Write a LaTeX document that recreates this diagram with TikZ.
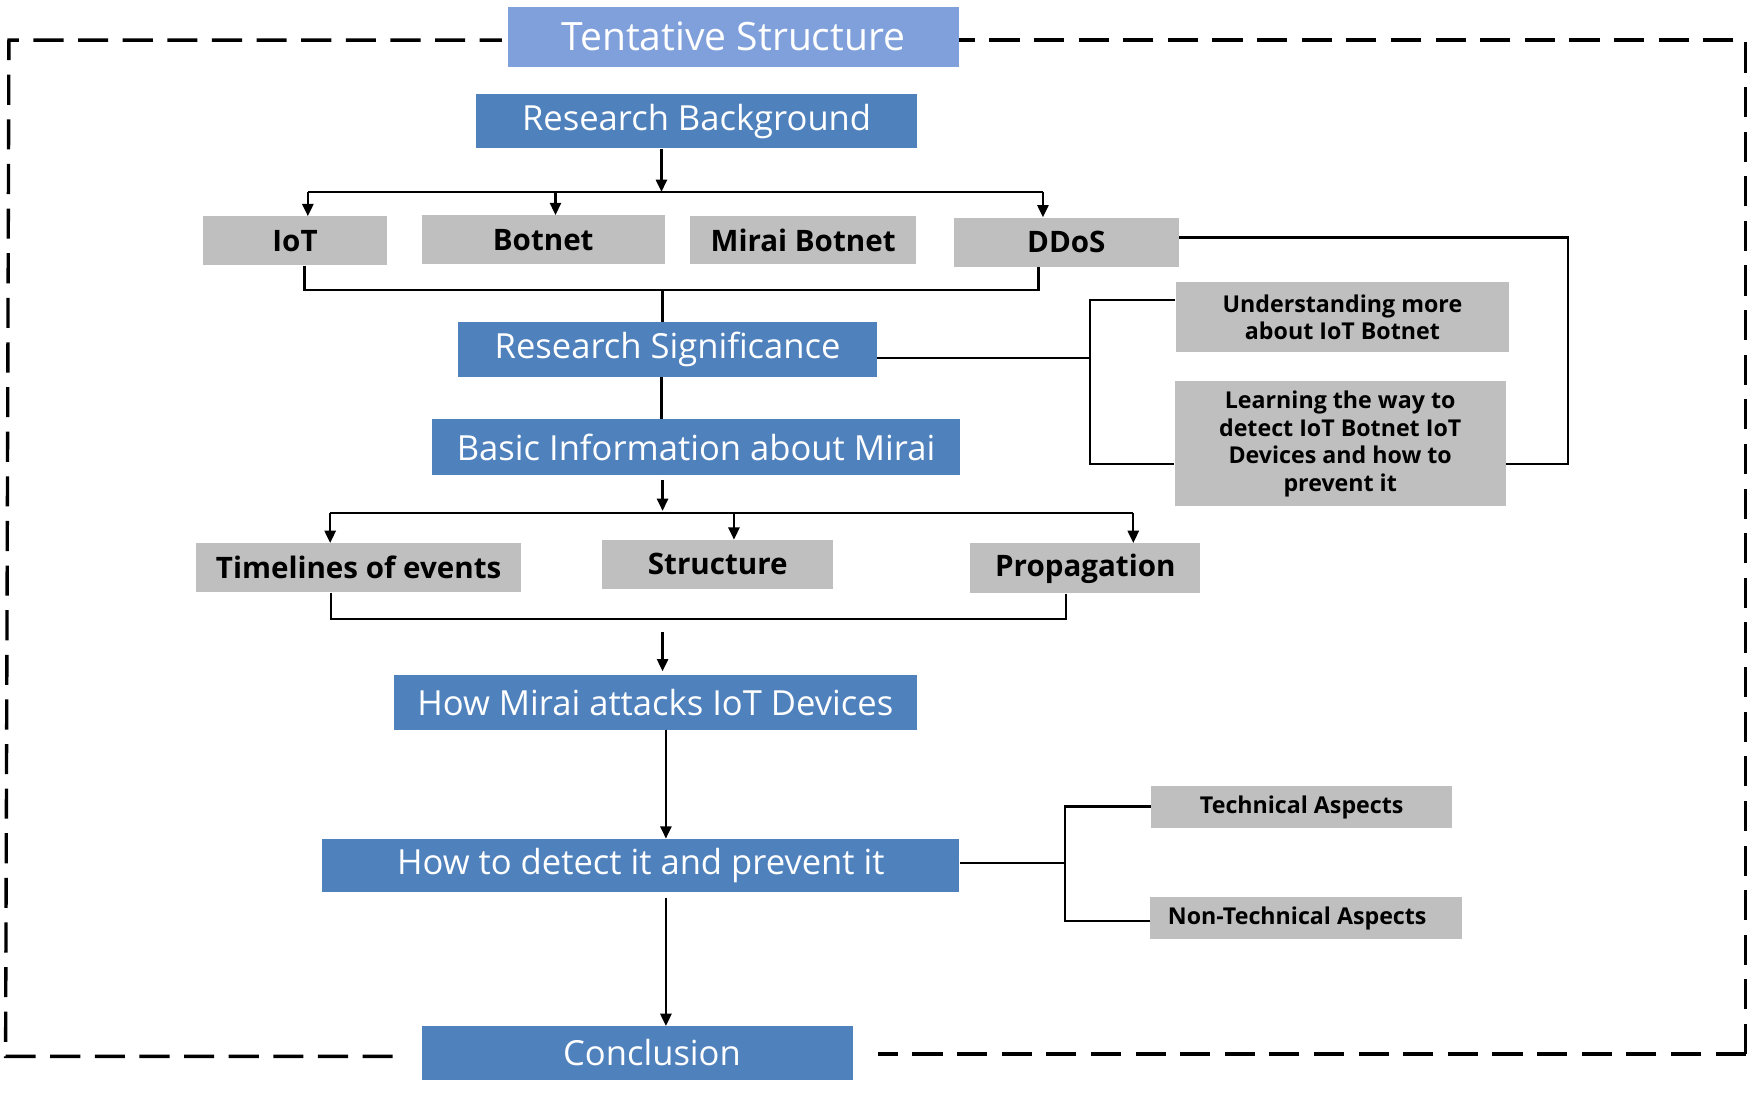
\documentclass[tikz,border=0pt]{standalone}
\usepackage{fontspec}
\setmainfont{Open Sans}
\usetikzlibrary{arrows.meta}
\definecolor{titleblue}{RGB}{128,160,220}
\definecolor{boxblue}{RGB}{79,129,189}
\definecolor{boxgray}{RGB}{191,191,191}
\tikzset{
  bluebox/.style={fill=boxblue, text=white, inner sep=0pt, font=\fontsize{31}{36}\selectfont},
  titlebox/.style={fill=titleblue, text=white, inner sep=0pt, font=\fontsize{35}{40}\selectfont},
  graybox/.style={fill=boxgray, text=black, inner sep=0pt, font=\fontsize{26.5}{31}\selectfont\bfseries},
  smallgray/.style={fill=boxgray, text=black, inner sep=0pt, align=center, font=\fontsize{20.8}{24.7}\selectfont\bfseries},
  conn/.style={draw=black, line width=2},
  arr/.style={conn, -{Triangle[length=11,width=10]}},
  frame/.style={draw=black, line width=3, dash pattern=on 27 off 13},
}
\begin{document}
\begin{tikzpicture}[x=1pt,y=-1pt]
\useasboundingbox (0,0) rectangle (1568,980);
% frame
\draw[frame] (352,947) -- (5,947) -- (8,36) -- (450,36);
\draw[frame] (1565,945) -- (1565,36) -- (860,36);
\draw[frame] (1565,945) -- (787,945);
% nodes
\node[titlebox, minimum width=405, minimum height=54] (title) at (657.5,33) {Tentative Structure};
\node[bluebox, minimum width=395, minimum height=49] (rb) at (624.5,108.5) {Research Background};
\node[graybox, minimum width=165, minimum height=44] (iot) at (264.5,216) {IoT};
\node[graybox, minimum width=218, minimum height=44] (botnet) at (487,215) {Botnet};
\node[graybox, minimum width=202, minimum height=43] (mirai) at (720,215.5) {Mirai Botnet};
\node[graybox, minimum width=202, minimum height=44] (ddos) at (956,217) {DDoS};
\node[bluebox, minimum width=375, minimum height=49] (rs) at (598.5,313.5) {Research Significance};
\node[bluebox, minimum width=474, minimum height=50] (bi) at (624,401) {Basic Information about Mirai};
\node[graybox, minimum width=291, minimum height=44] (tl) at (321.5,509) {Timelines of events};
\node[graybox, minimum width=207, minimum height=44] (st) at (643.5,506) {Structure};
\node[graybox, minimum width=206, minimum height=45] (pr) at (973,509.5) {Propagation};
\node[bluebox, minimum width=469, minimum height=49] (hm) at (587.5,629.5) {How Mirai attacks IoT Devices};
\node[bluebox, minimum width=571, minimum height=48] (hd) at (574.5,776) {How to detect it and prevent it};
\node[bluebox, minimum width=387, minimum height=48] (cc) at (571.5,944) {\hspace*{26pt}Conclusion};
\node[smallgray, minimum width=299, minimum height=63] (um) at (1203.5,284.5) {Understanding more\\about IoT Botnet};
\node[smallgray, minimum width=297, minimum height=112] (lw) at (1201.5,398) {Learning the way to\\detect IoT Botnet IoT\\Devices and how to\\prevent it};
\node[smallgray, minimum width=270, minimum height=37] (ta) at (1167,723.5) {Technical Aspects};
\node[smallgray, minimum width=280, minimum height=38] (nt) at (1171,823) {Non-Technical Aspects\hspace*{16pt}};
% helper coordinates
\coordinate (b1) at (593,172);
\coordinate (b1L) at (276,172);
\coordinate (b1B) at (498,172);
\coordinate (b1R) at (935,172);
\coordinate (k1L) at (273,260);
\coordinate (k1M) at (594,260);
\coordinate (k1R) at (931,260);
\coordinate (b2) at (594,458);
\coordinate (b2L) at (296,460);
\coordinate (b2M) at (658,460);
\coordinate (b2R) at (1016,460);
\coordinate (k2L) at (297,555);
\coordinate (k2R) at (956,555);
\coordinate (a3) at (594,567);
\coordinate (a4) at (597,654);
\coordinate (v1t) at (977,269);
\coordinate (v1m) at (977,321);
\coordinate (v1b) at (977,416);
\coordinate (v2t) at (1406,213);
\coordinate (v2b) at (1406,416);
\coordinate (v3t) at (955,723);
\coordinate (v3m) at (955,774);
\coordinate (v3b) at (955,826);
% connectors
\draw[arr] (rb.south -| b1) -- (b1);
\draw[conn] (b1L) -- (b1R);
\draw[arr] (b1L) -- (b1L |- iot.north);
\draw[arr] (b1B) -- (b1B |- botnet.north);
\draw[arr] (b1R) -- (b1R |- ddos.north);
\draw[conn] (k1L |- iot.south) -- (k1L) -- (k1R) -- (k1R |- ddos.south);
\draw[conn] (k1M) -- (k1M |- rs.north);
\draw[conn] (rs.south -| b1) -- (bi.north -| b1);
\draw[arr] ([yshift=-4]bi.south -| b2) -- (b2);
\draw[conn] (b2L) -- (b2R);
\draw[arr] (b2L) -- (b2L |- tl.north);
\draw[arr] (b2M) -- (b2M |- st.north);
\draw[arr] (b2R) -- (b2R |- pr.north);
\draw[conn] (k2L |- tl.south) -- (k2L) -- (k2R) -- (k2R |- pr.south);
\draw[arr] (a3) -- ([yshift=3]a3 |- hm.north);
\draw[arr] (a4) -- (a4 |- hd.north);
\draw[arr] ([yshift=-5]hd.south -| a4) -- (a4 |- cc.north);
\draw[conn] (rs.east |- v1m) -- (v1m);
\draw[conn] (um.west |- v1t) -- (v1t) -- (v1b) -- (v1b -| lw.west);
\draw[conn] (ddos.east |- v2t) -- (v2t) -- (v2b) -- (v2b -| lw.east);
\draw[conn] (hd.east |- v3m) -- (v3m);
\draw[conn] (ta.west |- v3t) -- (v3t) -- (v3b) -- (v3b -| nt.west);
\end{tikzpicture}
\end{document}
